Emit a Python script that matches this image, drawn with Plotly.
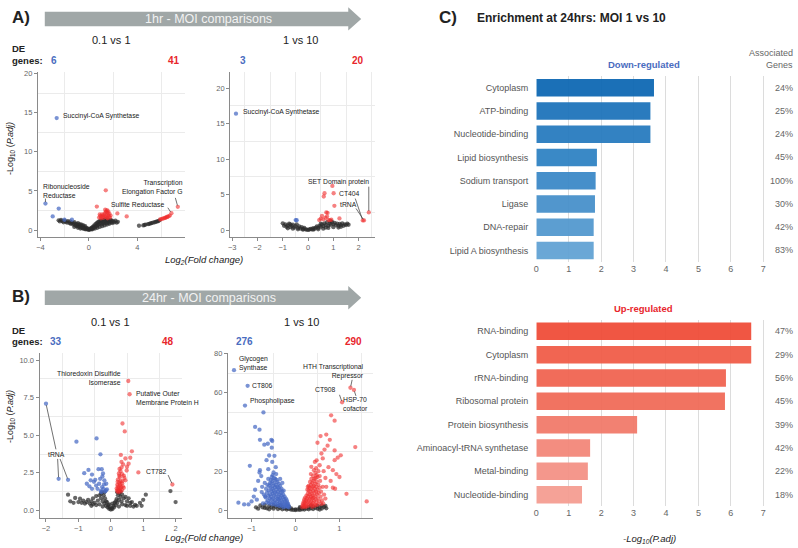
import plotly.graph_objects as go

# ---------------- DATA ----------------
# Panel A1: 1hr, MOI 0.1 vs 1  (log2FC, -log10 padj)
a1_blue = [(-2.66, 14.3), (-3.59, 3.39), (-2.49, 2.75), (-2.99, 1.74), (-2.02, 1.32), (-1.40, 1.32)]
a1_red = [(1.40, 5.07), (0.66, 3.0), (6.83, 2.16), (7.36, 2.97), (2.36, 2.12), (3.13, 1.74),
          (0.85, 1.6), (0.95, 1.8), (1.05, 1.7), (1.1, 2.0), (1.2, 1.55), (1.25, 1.9), (1.3, 2.1),
          (1.35, 1.7), (1.4, 2.3), (1.45, 1.85), (1.5, 2.55), (1.5, 1.6), (1.55, 2.2), (1.6, 1.95),
          (1.6, 2.4), (1.65, 1.75), (1.7, 2.1), (1.75, 1.6), (1.8, 1.85), (1.0, 1.5), (1.15, 1.75),
          (0.9, 2.0), (1.45, 2.4), (1.55, 1.5), (5.9, 1.35), (6.0, 1.4), (6.1, 1.45), (6.2, 1.5),
          (6.3, 1.55), (6.35, 1.6), (6.45, 1.65), (6.5, 1.7), (6.6, 1.75), (6.7, 1.85), (1.35, 2.6)]
a1_gray = [(-2.5, 1.25), (-2.4, 1.1), (-2.3, 1.3), (-2.2, 1.15), (-2.1, 1.0), (-2.0, 1.2), (-1.9, 1.05),
           (-1.8, 0.95), (-1.75, 1.15), (-1.6, 0.9), (-1.55, 1.1), (-1.5, 0.8), (-1.4, 0.95), (-1.3, 0.7),
           (-1.25, 0.85), (-1.2, 1.0), (-1.1, 0.6), (-1.05, 0.8), (-1.0, 0.5), (-0.95, 0.7), (-0.9, 0.9),
           (-0.85, 0.45), (-0.8, 0.6), (-0.75, 0.75), (-0.7, 0.35), (-0.65, 0.55), (-0.6, 0.7), (-0.55, 0.3),
           (-0.5, 0.45), (-0.45, 0.6), (-0.4, 0.2), (-0.35, 0.35), (-0.3, 0.5), (-0.25, 0.15), (-0.2, 0.25),
           (-0.15, 0.1), (-0.1, 0.2), (-0.05, 0.05), (0.0, 0.08), (0.05, 0.03), (0.1, 0.12), (0.15, 0.2),
           (0.2, 0.1), (0.25, 0.3), (0.3, 0.2), (0.35, 0.45), (0.4, 0.3), (0.45, 0.6), (0.5, 0.4),
           (0.55, 0.75), (0.6, 0.5), (0.65, 0.9), (0.7, 0.6), (0.75, 1.0), (0.8, 0.7), (0.85, 1.1),
           (0.9, 0.8), (0.95, 1.2), (1.0, 0.9), (1.05, 1.25), (1.1, 0.75), (1.15, 1.0), (1.2, 1.3),
           (1.25, 0.85), (1.3, 1.1), (1.35, 1.4), (1.4, 0.95), (1.45, 1.2), (1.5, 0.9), (1.55, 1.35),
           (1.6, 1.05), (1.65, 1.25), (1.7, 0.95), (1.75, 1.15), (1.8, 1.3), (1.85, 1.0), (1.9, 1.2),
           (1.95, 0.9), (2.0, 1.1), (2.1, 1.0), (2.2, 1.2), (2.3, 0.95), (2.4, 1.05), (0.3, 0.1),
           (-0.3, 0.1), (0.5, 0.2), (-0.5, 0.2), (0.7, 0.3), (-0.7, 0.2), (0.9, 0.4), (1.1, 0.5),
           (1.3, 0.6), (-0.9, 0.3), (-1.2, 0.4), (1.5, 0.7), (1.7, 0.8),
           (4.15, 0.55), (4.5, 0.6), (4.6, 0.65), (4.7, 0.7), (4.9, 0.75), (5.0, 0.8), (5.1, 0.85),
           (5.2, 0.9), (5.3, 0.95), (5.45, 1.0), (5.55, 1.05), (5.65, 1.1), (5.75, 1.15), (5.85, 1.25)]

# Panel A2: 1hr, MOI 1 vs 10
a2_blue = [(-2.85, 16.4), (-0.49, 1.4), (-0.45, 1.38)]
a2_red = [(2.40, 2.48), (1.01, 5.19), (0.96, 6.22), (0.65, 5.19), (0.62, 4.73), (1.04, 3.42),
          (2.16, 1.36), (2.21, 1.36), (0.72, 2.48), (0.77, 2.4), (0.55, 2.0), (1.24, 1.64),
          (0.44, 1.4), (0.80, 1.4), (0.86, 1.4), (0.69, 1.73), (0.50, 1.6), (0.92, 1.45),
          (0.60, 1.5), (0.75, 1.9)]
a2_gray = [(-1.0, 0.95), (-0.95, 0.6), (-0.9, 0.8), (-0.85, 0.45), (-0.8, 0.65), (-0.75, 0.9),
           (-0.7, 0.4), (-0.65, 0.6), (-0.6, 0.75), (-0.55, 0.35), (-0.5, 0.55), (-0.45, 0.8),
           (-0.4, 0.3), (-0.35, 0.5), (-0.3, 0.2), (-0.25, 0.4), (-0.2, 0.15), (-0.15, 0.3),
           (-0.1, 0.1), (-0.05, 0.05), (0.0, 0.02), (0.05, 0.08), (0.1, 0.15), (0.15, 0.1),
           (0.2, 0.25), (0.25, 0.15), (0.3, 0.35), (0.35, 0.5), (0.4, 0.3), (0.45, 0.6), (0.5, 0.45),
           (0.55, 0.8), (0.6, 0.55), (0.65, 0.95), (0.7, 0.7), (0.75, 1.1), (0.8, 0.6), (0.85, 0.9),
           (0.9, 0.75), (0.95, 1.15), (1.0, 0.8), (1.05, 1.0), (1.1, 0.7), (1.15, 0.9), (1.2, 0.6),
           (1.25, 0.85), (1.3, 0.7), (1.35, 0.95), (1.4, 0.6), (1.45, 0.8), (1.5, 0.7), (1.55, 0.9),
           (1.6, 0.75), (-0.6, 0.2), (-0.4, 0.1), (0.4, 0.1), (0.6, 0.2), (0.8, 0.3), (1.0, 0.4),
           (1.2, 0.35), (-0.8, 0.25), (-0.2, 0.05), (0.2, 0.05), (-0.7, 0.8), (0.5, 0.9),
           (0.9, 1.25), (0.7, 0.35), (1.3, 0.45)]

# Panel B1: 24hr, MOI 0.1 vs 1
b1_blue = [(-2.0, 7.1), (-1.61, 2.1), (-1.32, 2.03), (-1.06, 4.57), (-0.44, 4.79), (-0.32, 3.73),
           (-0.82, 2.47), (-0.69, 2.69), (-0.58, 2.38), (-0.74, 1.77), (-0.62, 2.0), (-0.38, 2.74),
           (-0.28, 2.74), (-0.26, 2.25), (-0.48, 2.03), (-0.36, 1.77), (-0.21, 1.72), (-0.23, 1.43),
           (-0.41, 1.43), (-0.58, 1.43), (-0.29, 1.21), (-0.15, 1.32), (-0.14, 1.77), (-0.33, 2.1),
           (-0.2, 2.0), (-0.27, 1.55), (-0.45, 1.65), (-0.18, 1.25), (-0.52, 1.9), (-0.31, 1.3),
           (-0.24, 2.45), (-0.66, 1.6), (-0.12, 1.4)]
b1_red = [(0.54, 8.61), (0.58, 7.73), (0.36, 5.78), (0.43, 5.25), (0.65, 3.93), (1.90, 1.72),
          (0.85, 2.52), (0.49, 2.65), (0.31, 3.69), (0.45, 3.45), (0.33, 3.22), (0.38, 3.05),
          (0.27, 2.75), (0.30, 2.6), (0.25, 2.45), (0.35, 2.4), (0.28, 2.2), (0.4, 2.3), (0.22, 2.05),
          (0.3, 1.95), (0.26, 1.85), (0.35, 1.8), (0.2, 1.7), (0.28, 1.65), (0.32, 1.55), (0.24, 1.5),
          (0.3, 1.45), (0.22, 1.4), (0.27, 1.35), (0.35, 1.35), (0.19, 1.3), (0.25, 1.3), (0.45, 2.0),
          (0.5, 2.9), (0.42, 2.15), (0.55, 3.1), (0.6, 3.5), (0.22, 1.6), (0.37, 1.6), (0.29, 1.75),
          (0.18, 1.45), (0.33, 2.85), (0.4, 1.5), (0.21, 1.9), (0.26, 2.3), (0.31, 1.25), (0.23, 1.2),
          (0.36, 1.95)]
b1_gray = [(-1.32, 1.04), (-1.25, 0.6), (-1.1, 0.82), (-0.95, 0.77), (-1.0, 0.55), (-0.9, 0.5),
           (-0.85, 0.65), (-0.8, 0.45), (-0.75, 0.55), (-0.7, 0.7), (-0.65, 0.45), (-0.6, 0.6),
           (-0.55, 0.8), (-0.5, 0.5), (-0.45, 0.95), (-0.4, 0.65), (-0.35, 1.0), (-0.3, 0.8),
           (-0.28, 1.2), (-0.25, 0.6), (-0.22, 1.0), (-0.2, 0.45), (-0.18, 0.8), (-0.15, 0.3),
           (-0.12, 0.55), (-0.1, 0.2), (-0.08, 0.35), (-0.05, 0.1), (-0.03, 0.2), (0.0, 0.05),
           (0.03, 0.15), (0.05, 0.08), (0.08, 0.3), (0.1, 0.2), (0.12, 0.5), (0.15, 0.35), (0.18, 0.75),
           (0.2, 0.5), (0.22, 1.0), (0.25, 0.7), (0.27, 1.15), (0.3, 0.9), (0.33, 0.6), (0.35, 1.05),
           (0.4, 0.8), (0.45, 0.9), (0.5, 0.6), (0.55, 0.8), (0.6, 0.5), (0.65, 0.55), (0.7, 0.25),
           (0.75, 0.36), (0.8, 0.3), (0.9, 0.5), (1.0, 0.7), (1.08, 1.04), (1.84, 1.28), (2.0, 0.55),
           (-0.35, 0.4), (-0.25, 0.25), (0.25, 0.25), (0.35, 0.4), (-0.6, 0.3), (0.6, 0.3),
           (-0.45, 0.35), (0.45, 0.35), (-0.15, 0.6), (0.15, 0.6), (-0.3, 1.1), (0.2, 1.2),
           (-0.2, 1.2), (0.3, 1.25), (-1.15, 0.5), (0.95, 0.3), (-0.55, 0.4), (0.5, 0.3),
           (-0.05, 0.4), (0.05, 0.45)]

# Panel B2: 24hr, MOI 1 vs 10
b2_blue = [(-0.15, 1.5), (-0.16, 2.5), (-0.17, 3.2), (-0.18, 1.8), (-0.19, 4.0), (-0.2, 2.2), (-0.2, 5.0),
           (-0.21, 3.0), (-0.22, 6.0), (-0.23, 1.9), (-0.24, 4.5), (-0.25, 7.0), (-0.25, 2.8), (-0.26, 5.5),
           (-0.27, 3.5), (-0.28, 8.0), (-0.28, 1.6), (-0.29, 6.5), (-0.3, 4.2), (-0.3, 9.5), (-0.31, 2.5),
           (-0.32, 7.5), (-0.32, 11.0), (-0.33, 5.0), (-0.34, 3.0), (-0.34, 9.0), (-0.35, 12.5), (-0.35, 6.2),
           (-0.36, 4.0), (-0.36, 10.5), (-0.37, 8.0), (-0.37, 2.2), (-0.38, 13.5), (-0.38, 5.5), (-0.39, 11.5),
           (-0.39, 7.0), (-0.4, 3.2), (-0.4, 9.5), (-0.41, 14.5), (-0.41, 6.0), (-0.42, 12.0), (-0.42, 4.5),
           (-0.43, 8.5), (-0.43, 15.5), (-0.44, 10.5), (-0.44, 2.6), (-0.45, 13.0), (-0.45, 6.8), (-0.46, 16.0),
           (-0.46, 5.0), (-0.47, 9.0), (-0.47, 11.8), (-0.48, 3.5), (-0.48, 14.0), (-0.49, 7.5), (-0.49, 16.5),
           (-0.5, 10.0), (-0.5, 4.2), (-0.51, 12.5), (-0.51, 6.0), (-0.52, 15.0), (-0.52, 8.5), (-0.53, 3.0),
           (-0.53, 11.0), (-0.54, 17.0), (-0.54, 5.5), (-0.55, 13.5), (-0.55, 9.5), (-0.56, 7.0), (-0.56, 15.5),
           (-0.57, 4.0), (-0.57, 11.5), (-0.58, 14.0), (-0.58, 8.0), (-0.59, 6.0), (-0.6, 12.5), (-0.6, 3.5),
           (-0.61, 10.0), (-0.62, 16.0), (-0.62, 7.5), (-0.63, 5.0), (-0.64, 13.0), (-0.65, 9.0), (-0.66, 4.0),
           (-0.67, 11.0), (-0.68, 6.5), (-0.7, 14.0), (-0.72, 8.0), (-0.74, 3.5), (-0.76, 12.0), (-0.3, 14.0),
           (-0.27, 10.0), (-0.35, 16.0), (-0.44, 18.5), (-0.52, 18.0),
           (-1.40, 71.6), (-1.09, 63.6), (-1.15, 53.5), (-0.73, 50.0), (-0.92, 42.6), (-0.82, 41.2),
           (-0.81, 36.0), (-0.53, 35.4), (-0.54, 32.0), (-0.71, 33.5), (-1.04, 22.7), (-1.30, 3.9),
           (-1.17, 3.0), (-0.82, 19.3), (-0.81, 20.5), (-0.62, 21.0), (-0.5, 19.3), (-0.66, 25.6),
           (-0.53, 24.7), (-0.48, 27.8), (-0.63, 34.0), (-0.55, 36.0), (-0.92, 10.5), (-0.77, 9.3),
           (-0.88, 5.4), (-1.07, 3.0), (-0.69, 7.1), (-0.85, 15.0), (-0.78, 17.5), (-0.6, 28.0),
           (-0.45, 22.0), (-0.95, 7.0), (-1.0, 4.5)]
b2_red = [(0.15, 1.5), (0.16, 2.5), (0.17, 3.5), (0.18, 2.0), (0.19, 4.5), (0.2, 2.8), (0.2, 5.5),
          (0.21, 3.8), (0.22, 6.5), (0.23, 2.2), (0.24, 5.0), (0.25, 7.5), (0.25, 3.2), (0.26, 6.0),
          (0.27, 4.2), (0.28, 8.5), (0.28, 2.0), (0.29, 7.0), (0.3, 5.0), (0.3, 10.0), (0.31, 3.0),
          (0.32, 8.0), (0.32, 11.5), (0.33, 5.8), (0.34, 3.6), (0.34, 9.5), (0.35, 13.0), (0.35, 6.8),
          (0.36, 4.5), (0.36, 11.0), (0.37, 8.5), (0.37, 2.6), (0.38, 14.0), (0.38, 6.0), (0.39, 12.0),
          (0.39, 7.5), (0.4, 3.8), (0.4, 10.0), (0.41, 15.0), (0.41, 6.5), (0.42, 12.5), (0.42, 5.0),
          (0.43, 9.0), (0.43, 16.0), (0.44, 11.0), (0.44, 3.0), (0.45, 13.5), (0.45, 7.2), (0.46, 16.5),
          (0.46, 5.5), (0.47, 9.5), (0.47, 12.0), (0.48, 4.0), (0.48, 14.5), (0.49, 8.0), (0.5, 10.5),
          (0.5, 17.0), (0.51, 6.0), (0.52, 13.0), (0.53, 8.8), (0.54, 4.5), (0.55, 11.5), (0.56, 15.0),
          (0.57, 7.0), (0.58, 9.5), (0.6, 5.0), (0.62, 12.0), (0.63, 3.5), (0.65, 8.0), (0.68, 6.0),
          (0.33, 14.5), (0.27, 10.5), (0.4, 17.5), (0.45, 19.0), (0.36, 16.0), (0.48, 18.0), (0.52, 20.0),
          (0.3, 12.5), (0.42, 20.5), (0.55, 17.5), (0.38, 1.8), (0.44, 2.3), (0.5, 2.8), (0.58, 3.2),
          (0.22, 1.6), (0.28, 12.0), (0.35, 18.5), (0.47, 21.5),
          (1.25, 62.6), (1.33, 61.5), (1.06, 55.2), (0.81, 48.5), (0.89, 45.8), (1.36, 32.3),
          (1.62, 4.5), (1.16, 8.4), (0.57, 37.9), (0.70, 38.7), (0.5, 34.5), (0.73, 33.0),
          (0.89, 30.6), (1.03, 28.1), (0.89, 25.6), (0.96, 26.9), (0.93, 18.5), (0.85, 11.5),
          (0.9, 11.0), (0.68, 16.5), (0.64, 20.0), (0.44, 24.7), (0.48, 25.5), (0.36, 22.2),
          (0.59, 29.0), (0.62, 26.5), (0.75, 22.0), (0.8, 15.0), (0.7, 12.0), (0.55, 23.0),
          (0.66, 31.0), (0.78, 36.0), (1.0, 17.0), (0.85, 20.5)]
b2_gray = [(-0.8, 2.5), (-0.75, 1.5), (-0.7, 2.8), (-0.65, 1.0), (-0.6, 2.2), (-0.55, 1.5), (-0.5, 0.8),
           (-0.5, 2.6), (-0.45, 1.8), (-0.4, 0.6), (-0.4, 2.2), (-0.35, 1.2), (-0.3, 0.5), (-0.3, 1.8),
           (-0.25, 0.9), (-0.2, 0.4), (-0.2, 1.3), (-0.15, 0.7), (-0.1, 0.3), (-0.1, 1.0), (-0.05, 0.2),
           (0.0, 0.1), (0.0, 0.5), (0.05, 0.3), (0.1, 0.2), (0.1, 0.9), (0.15, 0.5), (0.15, 1.1),
           (0.2, 0.4), (0.2, 1.4), (0.25, 0.8), (0.3, 0.5), (0.3, 1.6), (0.35, 1.0), (0.4, 0.6),
           (0.4, 2.0), (0.45, 1.3), (0.5, 0.8), (0.5, 2.3), (0.55, 1.5), (0.6, 0.9), (0.6, 2.5),
           (0.65, 1.7), (0.7, 1.0), (-0.9, 1.5), (-0.85, 0.8), (0.68, 2.2), (-0.6, 0.5), (0.55, 0.4),
           (-0.35, 2.6), (0.35, 2.5), (-0.15, 1.8), (0.1, 1.6), (-0.7, 1.2)]

de_counts_1hr = [(6, 41), (3, 20)]
de_counts_24hr = [(33, 48), (276, 290)]
comparisons = ["0.1 vs 1", "1 vs 10"]

# Panel C: enrichment
down_terms = ["Cytoplasm", "ATP-binding", "Nucleotide-binding", "Lipid biosynthesis",
              "Sodium transport", "Ligase", "DNA-repair", "Lipid A biosynthesis"]
down_vals = [3.63, 3.52, 3.52, 1.87, 1.83, 1.81, 1.77, 1.77]
down_pct = ["24%", "25%", "24%", "45%", "100%", "30%", "42%", "83%"]
up_terms = ["RNA-binding", "Cytoplasm", "rRNA-binding", "Ribosomal protein", "Protein biosynthesis",
            "Aminoacyl-tRNA synthetase", "Metal-binding", "Nucleotide-binding"]
up_vals = [6.63, 6.63, 5.85, 5.82, 3.11, 1.66, 1.59, 1.41]
up_pct = ["47%", "29%", "56%", "45%", "39%", "42%", "22%", "18%"]

# ---------------- STYLE ----------------
W, H = 798, 548
FONT = "Liberation Sans, Arial, sans-serif"
BLUE_PT = "rgba(70,105,195,0.72)"
RED_PT = "rgba(240,45,45,0.6)"
GRAY_PT = "rgba(45,45,45,0.72)"
BLUE_TXT = "#4a6cc0"
RED_TXT = "#e8262c"
DOWN_COLORS = ["#0a66b2", "#1a72ba", "#2479be", "#2c80c2", "#3887c6", "#448fca", "#5097ce", "#5fa1d3"]
UP_COLORS = ["#ef4a35", "#f05a45", "#f0614e", "#f06956", "#f27868", "#f38577", "#f49084", "#f59b90"]


def PX(x):
    return x / W


def PY(y):
    return 1 - y / H


fig = go.Figure()


def pts(pairs, color, ax):
    fig.add_trace(go.Scatter(
        x=[p[0] for p in pairs], y=[p[1] for p in pairs], mode="markers",
        marker=dict(size=4.3, color=color, line=dict(width=0)),
        xaxis="x" + ax, yaxis="y" + ax, hoverinfo="skip", showlegend=False))


for ax, g, b, r in [("", a1_gray, a1_blue, a1_red), ("2", a2_gray, a2_blue, a2_red),
                    ("3", b1_gray, b1_blue, b1_red), ("4", b2_gray, b2_blue, b2_red)]:
    pts(g, GRAY_PT, ax)
    pts(b, BLUE_PT, ax)
    pts(r, RED_PT, ax)

fig.add_trace(go.Bar(x=down_vals, y=down_terms, orientation="h",
                     marker=dict(color=DOWN_COLORS, line=dict(width=0)), opacity=0.93,
                     xaxis="x5", yaxis="y5", hoverinfo="skip", showlegend=False))
fig.add_trace(go.Bar(x=up_vals, y=up_terms, orientation="h",
                     marker=dict(color=UP_COLORS, line=dict(width=0)), opacity=0.93,
                     xaxis="x6", yaxis="y6", hoverinfo="skip", showlegend=False))

# volcano axes: pixel domains and data ranges
AXES = {
    "": dict(xd=(35, 183), xr=(-4.22, 7.96), yd=(235, 68), yr=(-0.92, 20.25)),
    "2": dict(xd=(228.3, 374), xr=(-3.08, 2.65), yd=(235, 68), yr=(-1.02, 22.35)),
    "3": dict(xd=(36.7, 180), xr=(-2.2, 2.2), yd=(517.3, 351.5), yr=(-0.48, 10.48)),
    "4": dict(xd=(226, 371.7), xr=(-1.54, 1.76), yd=(517.3, 351.5), yr=(-3.7, 80.4)),
}


def vaxis(dom, rng, tv, minor, anchor, ttext=None):
    d = dict(domain=dom, range=list(rng), tickvals=tv, showline=True, linecolor="#8a8a8a", linewidth=1,
             ticks="outside", ticklen=3, tickcolor="#8a8a8a", tickwidth=1,
             tickfont=dict(size=7.5, color="#666666", family=FONT),
             showgrid=False, zeroline=False, anchor=anchor, fixedrange=True,
             minor=dict(tickvals=minor, showgrid=True, gridcolor="#ebebeb", gridwidth=1, ticks=""))
    if ttext is not None:
        d["ticktext"] = ttext
    return d


def xdom(k):
    a, b = AXES[k]["xd"]
    return [PX(a), PX(b)]


def ydom(k):
    a, b = AXES[k]["yd"]
    return [PY(a), PY(b)]


fig.update_layout(
    xaxis=vaxis(xdom(""), AXES[""]["xr"], [-4, 0, 4], [-2, 2, 6], "y"),
    yaxis=vaxis(ydom(""), AXES[""]["yr"], [0, 5, 10, 15, 20], [2.5, 7.5, 12.5, 17.5], "x"),
    xaxis2=vaxis(xdom("2"), AXES["2"]["xr"], [-3, -2, -1, 0, 1, 2], [-2.5, -1.5, -0.5, 0.5, 1.5, 2.5], "y2"),
    yaxis2=vaxis(ydom("2"), AXES["2"]["yr"], [0, 5, 10, 15, 20], [2.5, 7.5, 12.5, 17.5], "x2"),
    xaxis3=vaxis(xdom("3"), AXES["3"]["xr"], [-2, -1, 0, 1, 2], [-1.5, -0.5, 0.5, 1.5], "y3"),
    yaxis3=vaxis(ydom("3"), AXES["3"]["yr"], [0, 2.5, 5, 7.5, 10], [1.25, 3.75, 6.25, 8.75], "x3",
                 ["0.0", "2.5", "5.0", "7.5", "10.0"]),
    xaxis4=vaxis(xdom("4"), AXES["4"]["xr"], [-1, 0, 1], [-0.5, 0.5, 1.5], "y4"),
    yaxis4=vaxis(ydom("4"), AXES["4"]["yr"], [0, 20, 40, 60, 80], [10, 30, 50, 70], "x4"),
)

cax = dict(range=[0, 7.06], tickvals=list(range(8)), showgrid=True, gridcolor="#dcdcdc", gridwidth=1,
           showline=False, zeroline=False, ticks="", fixedrange=True,
           tickfont=dict(size=9, color="#666666", family=FONT))
cy = dict(type="category", autorange="reversed", showgrid=False, showline=False, zeroline=False,
          ticks="", ticklabelstandoff=7, fixedrange=True, tickfont=dict(size=9, color="#555555", family=FONT))
fig.update_layout(
    xaxis5=dict(cax, domain=[PX(536), PX(766)], anchor="y5"),
    yaxis5=dict(cy, domain=[PY(260), PY(72.6)], anchor="x5", categoryarray=down_terms),
    xaxis6=dict(cax, domain=[PX(536), PX(766)], anchor="y6"),
    yaxis6=dict(cy, domain=[PY(506), PY(318)], anchor="x6", categoryarray=up_terms),
    bargap=0.25,
)

ann = []
shapes = []


def txt(x, y, text, size=9, color="#222222", bold=False, xanchor="center", yanchor="middle",
        align="center", angle=0):
    t = text
    if bold:
        t = "<b>" + t + "</b>"
    ann.append(dict(x=PX(x), y=PY(y), xref="paper", yref="paper", text=t, showarrow=False,
                    xanchor=xanchor, yanchor=yanchor, align=align, textangle=angle,
                    font=dict(size=size, color=color, family=FONT)))


def lab(ax, x, y, text, xanchor, xs, ys, align="left"):
    ann.append(dict(x=x, y=y, xref="x" + ax, yref="y" + ax, text=text, showarrow=False,
                    xanchor=xanchor, yanchor="middle", xshift=xs, yshift=ys, align=align,
                    font=dict(size=6.8, color="#1a1a1a", family=FONT)))


def lead(ax, x, y, dx, dy, gap=1.5):
    """Leader line from a point (data) toward a label, offset dx,dy in screen pixels."""
    a = AXES[ax]
    sx = (a["xd"][1] - a["xd"][0]) / (a["xr"][1] - a["xr"][0])
    sy = (a["yd"][0] - a["yd"][1]) / (a["yr"][1] - a["yr"][0])
    L = (dx * dx + dy * dy) ** 0.5
    ux, uy = dx / L, dy / L
    x0 = x + ux * gap / sx
    y0 = y - uy * gap / sy
    x1 = x + dx / sx
    y1 = y - dy / sy
    shapes.append(dict(type="line", xref="x" + ax, yref="y" + ax, x0=x0, y0=y0, x1=x1, y1=y1,
                       line=dict(color="#333333", width=0.7)))


# banners and panel letters
for (cy_, label) in [(15, "1hr - MOI comparisons"), (296, "24hr - MOI comparisons")]:
    pts_ = [(42, cy_ - 7.3), (347, cy_ - 7.3), (347, cy_ - 11.8), (360, cy_), (347, cy_ + 11.8),
            (347, cy_ + 7.3), (42, cy_ + 7.3)]
    path = "M " + " L ".join("%.5f,%.5f" % (PX(a), PY(b)) for a, b in pts_) + " Z"
    shapes.append(dict(type="path", path=path, xref="paper", yref="paper",
                       fillcolor="#a0a7a7", line=dict(width=0), layer="below"))
    txt(207, cy_, label, size=12.5, color="#f2f2f2")

txt(7, 14, "A)", size=17, bold=True, xanchor="left")
txt(7, 295, "B)", size=17, bold=True, xanchor="left")
txt(436, 14, "C)", size=17, bold=True, xanchor="left")
txt(474, 14, "Enrichment at 24hrs: MOI 1 vs 10", size=12, bold=True, xanchor="left")

# comparison titles + DE gene counts
for (yt, yd1, yd2, counts, xs) in [
        (36.7, 45, 57, de_counts_1hr, [(109.2, 51.7, 171.7), (299.2, 241.7, 356.7)]),
        (320, 328.5, 340, de_counts_24hr, [(108.3, 53.3, 166), (299.7, 242.3, 352.7)])]:
    txt(7.3, yd1, "DE", size=9.5, bold=True, xanchor="left")
    txt(7.3, yd2, "genes:", size=9.5, bold=True, xanchor="left")
    for (cx, bx, rx), (nb, nr), name in zip(xs, counts, comparisons):
        txt(cx, yt, name, size=11, color="#222222")
        txt(bx, yd2, str(nb), size=10, bold=True, color=BLUE_TXT)
        txt(rx, yd2, str(nr), size=10, bold=True, color=RED_TXT)

# axis titles
for yy in (257.7, 537.7):
    txt(201.7, yy, "<i>Log<sub>2</sub>(Fold change)</i>", size=9.5, color="#222222")
txt(8, 145, "-Log<sub>10</sub> (<i>P.adj)</i>", size=9, color="#222222", angle=-90)
txt(8, 415, "-Log<sub>10</sub> (<i>P.adj)</i>", size=9, color="#222222", angle=-90)
txt(650, 539, "<i>-Log<sub>10</sub>(P.adj)</i>", size=9.5, color="#222222")

# panel C headers
txt(644, 61, "Down-regulated", size=9.5, bold=True, color=BLUE_TXT)
txt(644, 306.7, "Up-regulated", size=9.5, bold=True, color=RED_TXT)
txt(796, 49, "Associated", size=9, color="#666666", xanchor="right")
txt(796, 61.5, "Genes", size=9, color="#666666", xanchor="right")
for terms, pcts, ax in [(down_terms, down_pct, "5"), (up_terms, up_pct, "6")]:
    for t, p in zip(terms, pcts):
        ann.append(dict(x=PX(796), y=t, xref="paper", yref="y" + ax, text=p, showarrow=False,
                        xanchor="right", yanchor="middle",
                        font=dict(size=9, color="#666666", family=FONT)))

# gene labels A1
lab("", -2.66, 14.3, "Succinyl-CoA Synthetase", "left", 4, 2)
lab("", -3.59, 3.39, "Ribonucleoside<br>Reductase", "left", -4, 13, "left")
lead("", -3.59, 3.39, 0, -5)
lab("", 7.36, 2.97, "Transcription<br>Elongation Factor G", "right", 7, 19, "right")
lead("", 7.36, 2.97, -2.5, -9)
lab("", 6.83, 2.16, "Sulfite Reductase", "right", -5, 9)
lead("", 6.83, 2.16, -3.6, -5.5)
# A2
lab("2", -2.85, 16.4, "Succinyl-CoA Synthetase", "left", 5, 1.5)
lab("2", 2.40, 2.48, "SET Domain protein", "right", 2.5, 30.5, "right")
lead("2", 2.40, 2.48, 0, -26)
lab("2", 1.01, 5.19, "CT404", "left", 3.5, 0)
lead("2", 2.16, 1.36, -7.5, -22)
lab("2", 1.04, 3.42, "tRNA", "left", 4, 1.3)
lead("2", 2.21, 1.36, -8, -12)
# B1
lab("3", 0.54, 8.61, "Thioredoxin Disulfide<br>Isomerase", "right", -5, 3, "right")
lab("3", 0.58, 7.73, "Putative Outer<br>Membrane Protein H", "left", 4, -3.7, "left")
lab("3", -1.61, 2.1, "tRNA", "center", -1.8, 24)
lead("3", -1.61, 2.1, -1, -20)
lead("3", -1.32, 2.03, -8, -21)
lead("3", -2.0, 7.1, 10, 46)
lab("3", 1.90, 1.72, "CT782", "right", -3.3, 13)
lead("3", 1.90, 1.72, -4.3, -9.5)
# B2
lab("4", -1.40, 71.6, "Glycogen<br>Synthase", "left", 3, 7, "left")
lab("4", -1.09, 63.6, "CT806", "left", 2.5, 0.7)
lab("4", -1.15, 53.5, "Phospholipase", "left", 3, 4.5)
lab("4", 1.25, 62.6, "HTH Transcriptional<br>Repressor", "right", 15.7, 16, "right")
lead("4", 1.25, 62.6, 1.7, -8)
lab("4", 1.06, 55.2, "CT908", "right", -4.2, 12.4)
lead("4", 1.06, 55.2, -2.6, -7.5)
lab("4", 1.33, 61.5, "HSP-70<br>cofactor", "center", 2, -14.5)
lead("4", 1.33, 61.5, 2, 6)

fig.update_layout(
    width=W, height=H, margin=dict(l=0, r=0, t=0, b=0),
    paper_bgcolor="white", plot_bgcolor="white",
    font=dict(family=FONT, color="#222222"),
    annotations=ann, shapes=shapes, showlegend=False,
)

fig.write_html("out.html", config={"displayModeBar": False, "staticPlot": True},
               post_script="document.body.style.margin='0px';document.body.style.overflow='hidden';")
